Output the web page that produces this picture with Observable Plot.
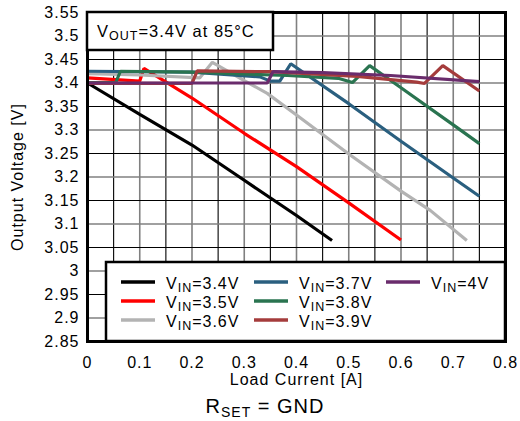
<!DOCTYPE html>
<html>
<head>
<meta charset="utf-8">
<script src="https://cdn.jsdelivr.net/npm/d3@7"></script>
<script src="https://cdn.jsdelivr.net/npm/@observablehq/plot@0.6"></script>
<style>
  html, body { margin: 0; padding: 0; background: #fff; }
  #chart svg { font-family: "Liberation Sans", Arial, Helvetica, sans-serif; }
</style>
</head>
<body>
<div id="chart"></div>
<script>
// ---- Data ----
const seriesNames = ["3.4V", "3.5V", "3.6V", "3.7V", "3.8V", "3.9V", "4V"];
const seriesColors = ["#000000", "#ff0000", "#b3b3b3", "#2a5f7f", "#2a7450", "#a53c3c", "#6a2c6c"];

const vin34X = [0, 0.1, 0.2, 0.3, 0.4, 0.468];
const vin34Y = [3.400, 3.333, 3.268, 3.193, 3.118, 3.065];

const vin35X = [0, 0.1, 0.108, 0.2, 0.3, 0.4, 0.5, 0.6];
const vin35Y = [3.411, 3.404, 3.431, 3.368, 3.293, 3.222, 3.145, 3.066];

const vin36X = [0, 0.1, 0.215, 0.239, 0.3, 0.344, 0.4, 0.5, 0.6, 0.656, 0.726];
const vin36Y = [3.420, 3.417, 3.411, 3.444, 3.405, 3.378, 3.332, 3.249, 3.170, 3.129, 3.065];

const vin37X = [0, 0.2, 0.33, 0.35, 0.368, 0.389, 0.5, 0.6, 0.7, 0.75];
const vin37Y = [3.425, 3.423, 3.413, 3.404, 3.404, 3.441, 3.356, 3.276, 3.198, 3.159];

const vin38X = [0, 0.054, 0.063, 0.2, 0.383, 0.48, 0.507, 0.54, 0.6, 0.7, 0.75];
const vin38Y = [3.401, 3.401, 3.425, 3.423, 3.416, 3.410, 3.401, 3.437, 3.390, 3.311, 3.271];

const vin39X = [0, 0.2, 0.21, 0.35, 0.516, 0.63, 0.645, 0.68, 0.75];
const vin39Y = [3.399, 3.399, 3.426, 3.424, 3.414, 3.402, 3.399, 3.437, 3.383];

const vin40X = [0, 0.344, 0.355, 0.45, 0.58, 0.75];
const vin40Y = [3.400, 3.400, 3.424, 3.422, 3.416, 3.403];

const xTicks = [0, 0.1, 0.2, 0.3, 0.4, 0.5, 0.6, 0.7, 0.8];
const yTicks = [2.85, 2.9, 2.95, 3, 3.05, 3.1, 3.15, 3.2, 3.25, 3.3, 3.35, 3.4, 3.45, 3.5, 3.55];
const xGrid = [0.05, 0.1, 0.15, 0.2, 0.25, 0.3, 0.35, 0.4, 0.45, 0.5, 0.55, 0.6, 0.65, 0.7, 0.75];
const yGrid = [2.9, 2.95, 3, 3.05, 3.1, 3.15, 3.2, 3.25, 3.3, 3.35, 3.4, 3.45, 3.5];

// ---- Build table ----
const allX = [vin34X, vin35X, vin36X, vin37X, vin38X, vin39X, vin40X];
const allY = [vin34Y, vin35Y, vin36Y, vin37Y, vin38Y, vin39Y, vin40Y];
const rows = [];
seriesNames.forEach((s, i) => {
  allX[i].forEach((x, j) => rows.push({series: s, x, y: allY[i][j]}));
});

const W = 520, H = 421;
const mL = 87, mR = 15, mT = 12, mB = 80;
const FONT = '"Liberation Sans", Arial, Helvetica, sans-serif';
const fmt = d => String(+d.toFixed(2));
const isMajor = v => Math.abs(Math.round(v * 10) - v * 10) < 1e-6;

const plot = Plot.plot({
  width: W,
  height: H,
  marginLeft: mL,
  marginRight: mR,
  marginTop: mT,
  marginBottom: mB,
  style: {fontFamily: FONT, fontSize: "16px", color: "#000", background: "#fff", letterSpacing: "1px"},
  x: {domain: [0, 0.8]},
  y: {domain: [2.85, 3.55]},
  color: {domain: seriesNames, range: seriesColors},
  marks: [
    Plot.ruleX(xGrid, {stroke: d => isMajor(d) ? "#808080" : "#000", strokeWidth: d => isMajor(d) ? 1.6 : 1.1, strokeOpacity: 1}),
    Plot.ruleY(yGrid, {stroke: d => isMajor(d) ? "#808080" : "#000", strokeWidth: d => isMajor(d) ? 1.6 : 1.1, strokeOpacity: 1}),
    Plot.axisX({ticks: xTicks, tickFormat: fmt, tickSize: 0, tickPadding: 15, fontSize: 16,
      label: "Load Current [A]", labelAnchor: "center", labelArrow: "none", labelOffset: 43}),
    Plot.axisY({ticks: yTicks, tickFormat: fmt, tickSize: 0, tickPadding: 8, fontSize: 16,
      label: "Output Voltage [V]", labelAnchor: "center", labelArrow: "none", labelOffset: 76}),
    Plot.line(rows, {x: "x", y: "y", z: "series", stroke: "series", strokeWidth: 3.2, strokeLinejoin: "miter", strokeLinecap: "butt"}),
    Plot.frame({stroke: "#000", strokeWidth: 3})
  ]
});

document.getElementById("chart").appendChild(plot);

// ---- Overlays: inset title box, legend box, caption ----
const svg = d3.select(plot);
const g = svg.append("g").attr("font-family", FONT).attr("fill", "#000").attr("text-anchor", "start");

// Title box
g.append("rect").attr("x", mL).attr("y", mT).attr("width", 273 - mL).attr("height", 50 - mT)
  .attr("fill", "#fff").attr("stroke", "#000").attr("stroke-width", 2.5);
const t = g.append("text").attr("x", 97).attr("y", 37).attr("font-size", 16.5).attr("text-anchor", "start");
t.append("tspan").text("V");
t.append("tspan").attr("font-size", 12.5).attr("dy", 3).text("OUT");
t.append("tspan").attr("dy", -3).text("=3.4V at 85°C");

// Legend box
const lgX = 106, lgY = 262, lgR = W - mR, lgB = H - mB;
g.append("rect").attr("x", lgX).attr("y", lgY).attr("width", lgR - lgX).attr("height", lgB - lgY)
  .attr("fill", "#fff").attr("stroke", "#000").attr("stroke-width", 2.5);
const colX = [121, 254, 386];
const rowY = [282, 301, 320];
seriesNames.forEach((s, i) => {
  const c = Math.floor(i / 3), r = i % 3;
  const lx = colX[c], ly = rowY[r];
  g.append("line").attr("x1", lx).attr("x2", lx + 34).attr("y1", ly).attr("y2", ly)
    .attr("stroke", seriesColors[i]).attr("stroke-width", 3.5);
  const tx = g.append("text").attr("x", lx + 45).attr("y", ly + 6.5).attr("font-size", 16).attr("text-anchor", "start");
  tx.append("tspan").text("V");
  tx.append("tspan").attr("font-size", 12.5).attr("dy", 3).text("IN");
  tx.append("tspan").attr("dy", -3).text("=" + s);
});

// Caption
const cap = g.append("text").attr("x", 265).attr("y", 413).attr("text-anchor", "middle").attr("font-size", 20).attr("letter-spacing", "1px");
cap.append("tspan").text("R");
cap.append("tspan").attr("font-size", 14).attr("dy", 4).text("SET");
cap.append("tspan").attr("dy", -4).text(" = GND");
</script>
</body>
</html>
